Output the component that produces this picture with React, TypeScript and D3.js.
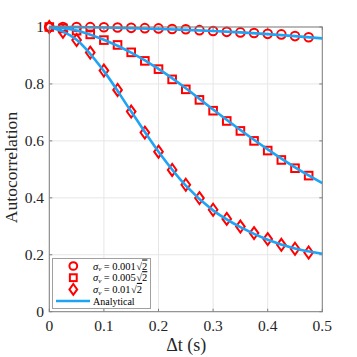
import React from "react";
import * as d3 from "d3";

const lags = [0, 0.025, 0.05, 0.075, 0.1, 0.125, 0.15, 0.175, 0.2, 0.225, 0.25, 0.275, 0.3, 0.325, 0.35, 0.375, 0.4, 0.425, 0.45, 0.475];
const circleVals = [1, 1, 1, 0.9995, 0.999, 0.998, 0.997, 0.996, 0.995, 0.993, 0.992, 0.989, 0.986, 0.983, 0.981, 0.979, 0.976, 0.974, 0.968, 0.964];
const squareVals = [1, 0.995, 0.987, 0.974, 0.954, 0.937, 0.911, 0.881, 0.852, 0.816, 0.781, 0.744, 0.706, 0.67, 0.635, 0.6, 0.566, 0.533, 0.504, 0.478];
const diamondVals = [1, 0.983, 0.954, 0.91, 0.847, 0.779, 0.703, 0.629, 0.562, 0.498, 0.446, 0.399, 0.358, 0.326, 0.299, 0.276, 0.255, 0.235, 0.221, 0.208];

const lineT = [0, 0.05, 0.1, 0.15, 0.2, 0.25, 0.3, 0.35, 0.4, 0.45, 0.5];
const analytic1 = [1, 0.9995, 0.998, 0.996, 0.993, 0.99, 0.986, 0.981, 0.975, 0.968, 0.96];
const analytic2 = [1, 0.988, 0.955, 0.91, 0.853, 0.785, 0.71, 0.638, 0.57, 0.507, 0.452];
const analytic3 = [1, 0.955, 0.845, 0.703, 0.562, 0.443, 0.356, 0.297, 0.253, 0.222, 0.2035];

const xTicks = [0, 0.1, 0.2, 0.3, 0.4, 0.5];
const yTicks = [0, 0.2, 0.4, 0.6, 0.8, 1];

const RED = "#ff0000";
const BLUE = "#1fa4f5";

export default function App() {
  const W = 357, H = 357;
  const x = d3.scaleLinear().domain([0, 0.5]).range([49.3, 322.3]);
  const y = d3.scaleLinear().domain([0, 1]).range([311.7, 27]);
  const line = d3.line<number>().x((_, i) => x(lineT[i])).y((d) => y(d)).curve(d3.curveMonotoneX);
  const fmt = (v: number) => (v === 0 ? "0" : v === 1 ? "1" : String(v));
  const font = "'Liberation Serif', 'Times New Roman', 'DejaVu Serif', serif";
  const [x0, x1] = x.range();
  const [y0, y1] = y.range();

  const diamond = (cx: number, cy: number, r: number) =>
    `M${cx},${cy - r}L${cx + r * 0.72},${cy}L${cx},${cy + r}L${cx - r * 0.72},${cy}Z`;

  const legendRows = [
    { label: "0.001", kind: "circle" },
    { label: "0.005", kind: "square" },
    { label: "0.01", kind: "diamond" },
  ];

  const marker = (kind: string, cx: number, cy: number, key: string | number, s = 1) => {
    if (kind === "circle") return <circle key={key} cx={cx} cy={cy} r={4.3 * s} fill="none" stroke={RED} strokeWidth={2} />;
    if (kind === "square") return <rect key={key} x={cx - 3.8 * s} y={cy - 3.8 * s} width={7.6 * s} height={7.6 * s} fill="none" stroke={RED} strokeWidth={2} />;
    return <path key={key} d={diamond(cx, cy, 6 * s)} fill="none" stroke={RED} strokeWidth={2} />;
  };

  return (
    <svg width={W} height={H} style={{ position: "absolute", left: 0, top: 0, background: "#fff", fontFamily: font }}>
      <rect x={0} y={0} width={W} height={H} fill="#fff" />
      {/* grid */}
      {xTicks.map((t) => (
        <line key={"gx" + t} x1={x(t)} x2={x(t)} y1={y0} y2={y1} stroke="#e6e6e6" strokeWidth={1} />
      ))}
      {yTicks.map((t) => (
        <line key={"gy" + t} x1={x0} x2={x1} y1={y(t)} y2={y(t)} stroke="#e6e6e6" strokeWidth={1} />
      ))}
      {/* ticks */}
      {xTicks.map((t) => (
        <g key={"tx" + t}>
          <line x1={x(t)} x2={x(t)} y1={y0} y2={y0 - 3} stroke="#808080" />
          <line x1={x(t)} x2={x(t)} y1={y1} y2={y1 + 3} stroke="#808080" />
          <text x={x(t)} y={330.5} textAnchor="middle" fontSize={15.5} fill="#262626">{fmt(t)}</text>
        </g>
      ))}
      {yTicks.map((t) => (
        <g key={"ty" + t}>
          <line x1={x0} x2={x0 + 3} y1={y(t)} y2={y(t)} stroke="#808080" />
          <line x1={x1} x2={x1 - 3} y1={y(t)} y2={y(t)} stroke="#808080" />
          <text x={44} y={y(t) + 5.2} textAnchor="end" fontSize={15.5} fill="#262626">{fmt(t)}</text>
        </g>
      ))}
      {/* markers */}
      {lags.map((t, i) => marker("circle", x(t), y(circleVals[i]), "c" + i))}
      {lags.map((t, i) => marker("square", x(t), y(squareVals[i]), "s" + i))}
      {lags.map((t, i) => marker("diamond", x(t), y(diamondVals[i]), "d" + i))}
      {/* analytical lines */}
      {[analytic1, analytic2, analytic3].map((a, k) => (
        <path key={"l" + k} d={line(a) || ""} fill="none" stroke={BLUE} strokeWidth={2.6} />
      ))}
      {/* axes box */}
      <rect x={x0} y={y1} width={x1 - x0} height={y0 - y1} fill="none" stroke="#808080" strokeWidth={1} />
      {/* labels */}
      <text x={186.3} y={351} textAnchor="middle" fontSize={18} fill="#262626">Δt (s)</text>
      <text transform={`translate(16.5,167.5) rotate(-90)`} textAnchor="middle" fontSize={17.6} fill="#262626">Autocorrelation</text>
      {/* legend */}
      <rect x={52.5} y={258.5} width={98} height={50} fill="#fff" stroke="#a0a0a0" strokeWidth={1} />
      {legendRows.map((r, i) => {
        const cy = 266 + i * 11.7;
        return (
          <g key={"lg" + i}>
            {marker(r.kind, 73.3, cy, "lm" + i, 0.9)}
            <text x={93} y={cy + 3.5} fontSize={10.5} fill="#000">
              <tspan fontStyle="italic">σ</tspan>
              <tspan fontStyle="italic" fontSize={7} dy={1.8}>v</tspan>
              <tspan dy={-1.8} dx={2.5}>=</tspan>
              <tspan dx={2.5}>{r.label}</tspan>
              <tspan dx={0.5}>√</tspan>
              <tspan textDecoration="overline">2</tspan>
            </text>
          </g>
        );
      })}
      <line x1={56} x2={90} y1={301} y2={301} stroke={BLUE} strokeWidth={2.6} />
      <text x={93} y={304.5} fontSize={10} fill="#000">Analytical</text>
    </svg>
  );
}
